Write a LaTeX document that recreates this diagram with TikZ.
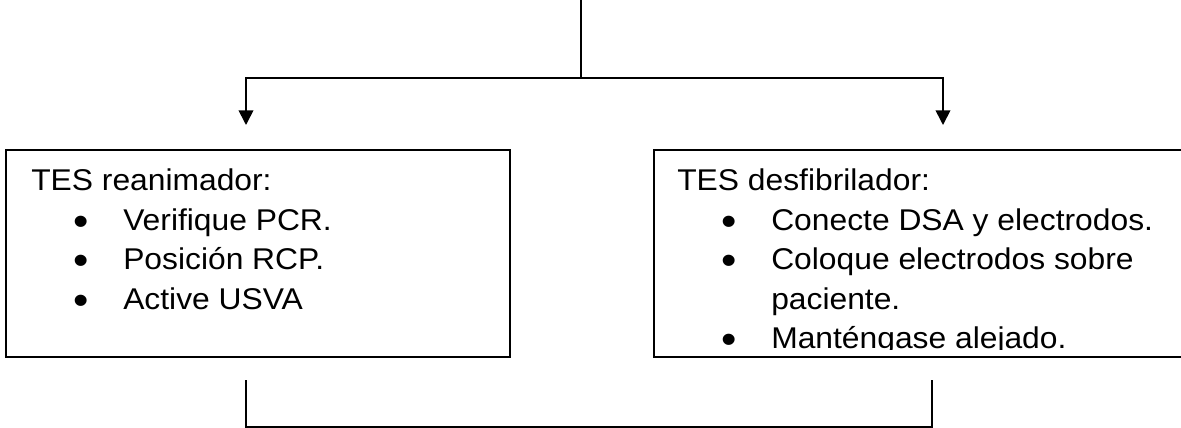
\documentclass[tikz,border=0pt]{standalone}
\usepackage{fontspec}
\setmainfont[FakeStretch=1.06]{Liberation Sans}
\usetikzlibrary{arrows.meta}
\tikzset{
  conn/.style={line width=1.3pt, draw=black},
  arr/.style={conn, -{Triangle[width=11pt,length=11pt]}},
  boxst/.style={draw=black, line width=1.3pt, rectangle, inner sep=0pt},
  txt/.style={anchor=base west, inner sep=0pt, font=\fontsize{22.5pt}{29.6pt}\selectfont},
  bul/.style={anchor=base, inner sep=0pt, font=\fontsize{31pt}{31pt}\selectfont}
}
\begin{document}
\begin{tikzpicture}[x=0.75pt, y=-0.75pt]
\useasboundingbox (0,0) rectangle (1181,428);
% boxes
\node[boxst, minimum width=504*0.75pt, minimum height=207*0.75pt, anchor=north west] (lbox) at (5,149) {};
\node[boxst, minimum width=700*0.75pt, minimum height=207*0.75pt, anchor=north west] (rbox) at (653,149) {};
% connector coordinates
\coordinate (top) at (581,0);
\coordinate (split) at (581,78);
\coordinate (la) at (246,125);
\coordinate (ra) at (943,125);
\coordinate (lb) at (246,380);
\coordinate (rb) at (932,380);
\coordinate (bl) at (246,427);
\draw[conn] (top) -- (split);
\draw[arr] (split) -| (la);
\draw[arr] (split) -| (ra);
\draw[conn] (lb) -- (bl) -| (rb);
% left text
\node[txt] (lh) at (31,190) {TES reanimador:};
\node[bul] (lb1) at (81,235) {•};
\node[txt] (l1) at (123,230) {Verifique PCR.};
\node[bul] (lb2) at (81,274.5) {•};
\node[txt] (l2) at (123,269.5) {Posición RCP.};
\node[bul] (lb3) at (81,314) {•};
\node[txt] (l3) at (123,309) {Active USVA};
% right text
\begin{scope}
\clip (653,149) rectangle (1181,349.5);
\node[txt] (rh) at (677,190) {TES desfibrilador:};
\node[bul] (rb1) at (729,235) {•};
\node[txt] (r1) at (771,230) {Conecte DSA y electrodos.};
\node[bul] (rb2) at (729,274.5) {•};
\node[txt] (r2) at (771,269.5) {Coloque electrodos sobre};
\node[txt] (r3) at (771,309) {paciente.};
\node[bul] (rb3) at (729,353.5) {•};
\node[txt] (r4) at (771,348.5) {Manténgase alejado.};
\end{scope}
\end{tikzpicture}
\end{document}
